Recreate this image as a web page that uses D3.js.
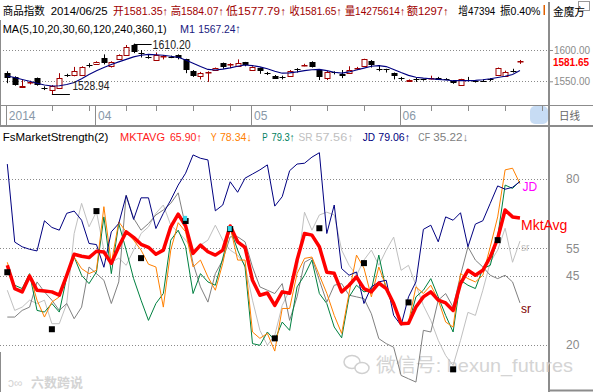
<!DOCTYPE html>
<html><head><meta charset="utf-8">
<script src="https://cdn.jsdelivr.net/npm/d3@7"></script>
<style>
body{margin:0;background:#fff;}
svg{display:block;font-family:'Liberation Sans','Noto Sans CJK SC',sans-serif;}
</style></head>
<body><svg id="c" width="593" height="392"></svg>
<script>
// ---------- DATA ----------
const candleOpen = [1563.7,1556.4,1541.5,1548,1554.8,1539,1536,1540,1560.2,1560, 1560,1576.2,1577.6,1586.7,1574,1585,1592,1608,1594.5,1589.2, 1584,1590,1589.2,1592,1585,1567,1557.5,1564,1568,1579, 1577,1575.5,1580.3,1569,1571,1563.2,1559,1557.2,1559,1569.2, 1576,1581,1568,1556,1564.2,1561.7,1563,1571,1574,1583, 1569.2,1569,1563,1555.2,1550.5,1553.2,1553.2,1555,1556,1554, 1550.5,1544,1552.2,1550.7,1551.2,1553.2,1560,1558.5,1567.2,1581.35];
const candleClose = [1555,1544,1542.5,1548.3,1544,1538.7,1542.5,1556,1560,1566, 1573,1576,1581,1578.7,1581,1592,1604,1596.3,1592.5,1589, 1592,1590.3,1589,1586.7,1567,1558.5,1563,1564.3,1571,1573, 1577.3,1580,1575,1573,1566.5,1563,1555,1557,1567,1569, 1576.3,1573,1557,1565,1564,1558.5,1568,1571.3,1585,1576, 1569,1567,1557.5,1555,1551.5,1553,1553,1555.3,1553,1553, 1547,1553,1552,1550.5,1551,1553,1571,1565,1567,1581.65];
const candleHigh = [1566,1558,1552,1551,1556,1542,1544,1563,1562,1573, 1574,1579,1582,1593,1582,1593,1608,1610.2,1600,1592, 1596,1592,1591,1593,1586,1568,1565,1566,1572,1580, 1579,1585,1581,1574,1572,1565,1560,1559,1568,1571, 1578,1582,1569,1567,1566,1568,1574,1573,1586,1584, 1576,1570,1564,1557,1553,1556,1554,1559,1557,1555, 1551,1554,1557,1552,1553,1555,1572,1567,1570,1584.07];
const candleLow = [1547,1543,1541,1545,1543,1536,1528.94,1539,1557,1558, 1559,1572,1577,1577,1572,1584,1591,1595,1588,1586, 1583,1585,1587,1585,1563,1557,1553,1549,1567,1570, 1571,1575,1574,1567,1562,1560,1554,1553,1557,1564, 1574,1572,1552,1552,1561,1555,1562,1568,1573,1572, 1566,1564,1553,1551,1550,1549,1551,1553,1552,1552, 1546,1543,1550,1548,1549,1550,1559,1557,1564,1577.79];
const ma1 = [1558.5,1556,1553,1550,1547,1544,1542.5,1543,1545,1548, 1554,1561,1567,1572,1577,1581,1585,1589,1591.5,1593, 1592.5,1591.5,1590,1588.5,1584,1579,1573.5,1569,1568,1569.5, 1571.5,1574,1576,1575,1573,1570,1566,1563,1563.5,1565, 1567,1568.5,1569,1567,1564.5,1563,1565,1568,1571,1574, 1575,1573.5,1569,1564,1559.5,1556.5,1555,1554,1553,1552, 1551,1551,1551,1551.5,1552.5,1554,1556,1558,1561,1567.24];

const mktavg = [48.8,40.4,39.2,44.9,39.8,39.5,39.2,38.0,45.2,52.8, 52.1,51.6,53.9,53.6,49.5,55.5,60.9,58.9,56.4,55.3, 52.8,54.3,62.7,67.3,63.0,53.1,56.1,53.7,52.5,54.3, 63.0,57.3,55.3,43.4,38.0,38.8,34.3,39.2,38.7,50.7, 60.3,59.7,55.5,46.3,45.9,39.2,41.6,44.6,40.4,39.2, 42.4,40.4,35.0,27.7,27.9,33.7,37.4,39.2,36.2,35.2, 32.5,42.2,47.0,45.2,47.0,51.8,58.5,68.8,66.3,65.9];
const seriesY = [49.9,40.5,39.2,45.6,36.2,30.1,35.5,37.4,45.8,51.8, 47.6,45.8,47.0,70.0,49.5,64.5,60.9,57.9,54.3,49.2, 48.2,33.7,54.3,64.2,60.9,48.2,50.7,44.6,39.8,49.5, 62.7,50.7,50.7,24.7,22.4,24.2,17.8,33.2,33.2,45.8, 51.3,51.8,45.2,38.7,30.7,24.2,38.7,52.5,47.8,37.4, 48.2,41.0,34.3,27.7,28.3,41.0,38.6,41.6,36.2,28.3, 26.5,45.8,44.0,42.8,45.2,55.5,66.3,83.3,83.9,78.3];
const seriesP = [47.0,41.6,40.4,45.8,32.5,31.9,35.0,31.9,44.6,51.8, 45.2,42.2,46.4,66.3,45.8,63.9,54.3,44.0,36.2,28.9, 35.0,38.6,57.9,61.5,55.5,38.6,45.8,42.8,41.6,51.4, 62.1,54.3,48.2,20.5,19.9,24.7,21.7,28.3,25.3,41.0, 45.2,50.7,38.6,35.0,26.5,22.6,37.4,41.6,39.2,39.8, 52.5,39.8,34.3,28.3,27.7,37.4,39.8,44.0,37.4,30.7, 24.7,43.4,41.6,40.4,47.6,48.8,59.1,77.8,76.6,79.3];
const seriesSR = [39.8,32.5,33.7,36.2,35.0,36.2,27.7,27.7,35.0,60.3, 71.2,62.7,68.2,54.3,49.9,51.4,48.8,54.3,60.3,62.7, 67.6,70.6,63.3,60.8,57.9,54.3,56.1,57.9,63.3,57.9, 54.3,52.5,48.8,36.2,25.3,19.9,23.5,34.3,39.8,47.0, 68.0,61.5,67.0,68.0,67.0,54.3,48.8,45.2,50.7,54.3, 48.8,54.3,59.0,47.0,48.8,41.6,34.3,28.9,21.7,16.2, 12.6,21.7,31.8,30.7,39.8,49.9,54.3,62.2,49.9,57.56];
const seriesJD = [85.4,57.2,55.5,54.6,54.0,64.9,62.5,61.5,67.6,68.4, 65.1,56.7,56.3,48.1,60.9,63.9,74.0,65.4,73.2,73.2, 62.1,67.6,72.4,77.8,82.1,88.7,87.5,86.9,68.5,70.6, 79.0,75.2,80.3,81.8,83.3,85.1,70.2,73.6,83.0,85.4, 85.7,87.9,89.5,60.3,70.6,47.6,45.2,46.4,35.0,41.0, 42.8,43.4,30.7,27.1,37.4,42.8,61.8,63.3,57.3,66.3, 65.1,67.8,55.5,63.7,64.9,71.2,77.5,76.3,77.0,79.06];
const seriesCF = [30.1,30.1,32.5,33.7,42.8,39.2,36.2,32.5,35.0,29.5, 33.7,48.2,45.8,43.4,35.0,42.8,74.2,65.8,61.5,63.9, 67.0,68.8,71.2,75.0,62.7,49.5,41.0,35.5,45.8,50.7, 59.1,59.1,57.3,48.2,41.0,39.8,38.6,42.2,28.9,37.4, 49.9,51.4,43.4,35.5,41.6,42.2,38.0,37.4,36.8,31.3, 22.3,20.5,19.2,9.0,7.8,6.6,25.3,24.7,36.2,38.6, 33.7,45.2,55.5,50.7,48.2,45.2,44.0,45.2,42.8,35.22];
const markerIdx = [0,6,12,18,24,30,36,42,48,54,60,66];
const markerVal = [46.3,25.7,68.4,51.4,64.8,61.9,22.4,62.2,49.6,35.4,11.2,57.9];
const cyanIdx = [24,30];
const cyanVal = [65.6,61.9];

const priceTicks = [1600,1550];
const strengthTicks = [80,55,45,20];
const weekTicks = [6,11,16,20,25,30,38,43,48,57,62,67,72];
const monthTicks = [0,12,33,53];
const monthLabels = ["2014","04","05","06"];

// ---------- SCALES ----------
const svg = d3.select("#c");
const x = d3.scaleLinear().domain([0,73]).range([7.3, 7.3+7.43*73]);
const py = d3.scaleLinear().domain([1550,1600]).range([81.3,50]);
const sy = d3.scaleLinear().domain([20,80]).range([345,179]);
const idx = d3.range(candleOpen.length);
const plotRight = 549;
const fit = (sel) => sel.attr("textLength",d=>d.w).attr("lengthAdjust","spacingAndGlyphs");

// ---------- FRAME ----------
const frame = svg.append("g").attr("stroke","#8c8c8c").attr("fill","none");
frame.append("line").attr("x1",plotRight).attr("x2",plotRight).attr("y1",2).attr("y2",392).attr("stroke-width",2);
frame.append("line").attr("x1",0).attr("x2",593).attr("y1",105.5).attr("y2",105.5);
frame.append("line").attr("x1",0).attr("x2",593).attr("y1",126).attr("y2",126).attr("stroke-width",2);
frame.append("line").attr("x1",plotRight).attr("x2",593).attr("y1",390.5).attr("y2",390.5).attr("stroke-width",2);
frame.append("line").attr("x1",0.5).attr("x2",0.5).attr("y1",20).attr("y2",126);
frame.append("line").attr("x1",0.5).attr("x2",0.5).attr("y1",352).attr("y2",392);
frame.append("rect").attr("x",578.5).attr("y",1.5).attr("width",11).attr("height",9).attr("stroke","#999");

// scroll thumb
svg.append("rect").attr("x",530).attr("y",106).attr("width",18).attr("height",18).attr("rx",5).attr("fill","#c7dcf4");

// ---------- GRID ----------
const grid = svg.append("g").attr("stroke","#8a8a8a").attr("stroke-dasharray","1,2");
grid.selectAll("line.p").data(priceTicks).join("line").attr("x1",0).attr("x2",plotRight-1)
  .attr("y1",d=>Math.round(py(d))+0.5).attr("y2",d=>Math.round(py(d))+0.5);
grid.selectAll("line.s").data(strengthTicks).join("line").attr("x1",0).attr("x2",plotRight-1)
  .attr("y1",d=>Math.round(sy(d))+0.5).attr("y2",d=>Math.round(sy(d))+0.5);

// ---------- RIGHT AXES ----------
const pax = svg.append("g").attr("transform",`translate(${plotRight},0)`)
  .call(d3.axisRight(py).tickValues(priceTicks).tickSize(4).tickPadding(1).tickFormat(d3.format(".2f")));
pax.select(".domain").remove();
pax.selectAll("line").attr("stroke","#8c8c8c");
pax.selectAll("text").attr("fill","#8a8a8a").attr("font-size",11).attr("font-family","Liberation Sans, sans-serif")
  .attr("textLength",36).attr("lengthAdjust","spacingAndGlyphs");
svg.append("text").attr("x",553).attr("y",66).attr("fill","#ff0000").attr("font-size",11).attr("font-weight","bold")
  .attr("textLength",36).attr("lengthAdjust","spacingAndGlyphs")
  .text(d3.format(".2f")(candleClose[candleClose.length-1]));

const sax = svg.append("g").attr("transform",`translate(${plotRight},0)`)
  .call(d3.axisRight(sy).tickValues(strengthTicks).tickSize(0).tickPadding(17));
sax.select(".domain").remove();
sax.selectAll("text").attr("fill","#8a8a8a").attr("font-size",12).attr("font-family","Liberation Sans, sans-serif");

svg.append("text").attr("x",553).attr("y",16).attr("font-size",11).attr("fill","#000")
  .attr("textLength",32).attr("lengthAdjust","spacingAndGlyphs").text("金魔方");
svg.append("text").attr("x",559).attr("y",120).attr("font-size",11).attr("fill","#666")
  .attr("textLength",21).attr("lengthAdjust","spacingAndGlyphs").text("日线");

// ---------- X AXIS ----------
const xa = svg.append("g").attr("stroke","#8c8c8c");
xa.selectAll("line.w").data(weekTicks).join("line")
  .attr("x1",d=>Math.round(x(d))+0.5).attr("x2",d=>Math.round(x(d))+0.5).attr("y1",105).attr("y2",111);
xa.selectAll("line.m").data(monthTicks).join("line")
  .attr("x1",d=>Math.round(x(d))-0.5).attr("x2",d=>Math.round(x(d))-0.5).attr("y1",105).attr("y2",125);
svg.append("g").selectAll("text").data(monthTicks).join("text")
  .attr("x",d=>x(d)+1.5).attr("y",120).attr("font-size",12).attr("fill","#8898a8")
  .text((d,i)=>monthLabels[i]);

// ---------- CANDLES ----------
const cg = svg.append("g");
idx.forEach(i=>{
  const o=candleOpen[i], c=candleClose[i], up=c>=o;
  const col = up ? "#a00000" : "#000";
  const cx = Math.round(x(i))+0.5;
  cg.append("line").attr("x1",cx).attr("x2",cx).attr("y1",py(candleHigh[i])).attr("y2",py(candleLow[i])).attr("stroke",col);
  const top = py(Math.max(o,c)), bot = py(Math.min(o,c));
  const h = Math.max(0.01, bot-top);
  if (up) {
    cg.append("rect").attr("x",cx-2.5).attr("y",Math.round(top)+0.5).attr("width",5).attr("height",Math.max(0.5,Math.round(h)))
      .attr("fill","#fff").attr("stroke",col);
  } else {
    cg.append("rect").attr("x",cx-3).attr("y",Math.round(top)).attr("width",6).attr("height",Math.max(1,Math.round(h)))
      .attr("fill",col);
  }
});
svg.append("path").datum(idx).attr("fill","none").attr("stroke","#000080").attr("stroke-width",1.1)
  .attr("d",d3.line().x(i=>x(i)).y(i=>py(ma1[i])));

// high/low annotations
const hiI = d3.maxIndex(candleHigh), loI = d3.minIndex(candleLow);
svg.append("line").attr("x1",x(hiI)).attr("x2",x(hiI)+18).attr("y1",Math.round(py(candleHigh[hiI]))+0.5).attr("y2",Math.round(py(candleHigh[hiI]))+0.5).attr("stroke","#000");
svg.append("text").attr("x",x(hiI)+19).attr("y",48.5).attr("font-size",12).attr("fill","#222")
  .attr("textLength",38).attr("lengthAdjust","spacingAndGlyphs").text(d3.format(".2f")(candleHigh[hiI]));
svg.append("line").attr("x1",x(loI)).attr("x2",x(loI)+18).attr("y1",Math.round(py(candleLow[loI]))+0.5).attr("y2",Math.round(py(candleLow[loI]))+0.5).attr("stroke","#000");
svg.append("text").attr("x",x(loI)+20.5).attr("y",89.5).attr("font-size",12).attr("fill","#222")
  .attr("textLength",37).attr("lengthAdjust","spacingAndGlyphs").text(d3.format(".2f")(candleLow[loI]));

// ---------- HEADER ----------
const hdr = [
  {x:2.7,w:42,t:"商品指数",c:"#000"},{x:50.7,w:57,t:"2014/06/25",c:"#000"},
  {x:113,w:55,t:"开1581.35↑",c:"#a00000"},{x:170.7,w:53,t:"高1584.07↑",c:"#a00000"},
  {x:226,w:60,t:"低1577.79↑",c:"#a00000"},{x:289.5,w:52,t:"收1581.65↑",c:"#a00000"},
  {x:345,w:60,t:"量14275614↑",c:"#a00000"},{x:406.7,w:42,t:"额1297↑",c:"#a00000"},
  {x:458.3,w:37,t:"增47394",c:"#000"},{x:500,w:40.5,t:"振0.40%",c:"#000"}
];
svg.append("g").selectAll("text").data(hdr).join("text")
  .attr("x",d=>d.x).attr("y",15).attr("font-size",11).attr("fill",d=>d.c).call(fit).text(d=>d.t);
svg.append("rect").attr("x",543.5).attr("y",5).attr("width",1.5).attr("height",10).attr("fill","#e06000");
const hdrMA = [
  {x:2.7,w:164,t:"MA(5,10,20,30,60,120,240,360,1)",c:"#000"},
  {x:180,w:15,t:"M1",c:"#1a1a80"},{x:198.3,w:42.4,t:"1567.24↑",c:"#1a1a80"}
];
svg.append("g").selectAll("text").data(hdrMA).join("text")
  .attr("x",d=>d.x).attr("y",33).attr("font-size",11.5).attr("fill",d=>d.c).call(fit).text(d=>d.t);

const hdr2 = [
  {x:2.7,w:105.6,t:"FsMarketStrength(2)",c:"#000"},{x:120,w:45,t:"MKTAVG",c:"#ff2020"},{x:170,w:31.7,t:"65.90↑",c:"#ff2020"},
  {x:210.7,w:6,t:"Y",c:"#ff8000"},{x:220,w:31.7,t:"78.34↓",c:"#ff8000"},{x:262.3,w:5.4,t:"P",c:"#008060"},{x:271.5,w:23,t:"79.3↑",c:"#008060"},
  {x:298.5,w:14,t:"SR",c:"#c0c0c0"},{x:315.5,w:38,t:"57.56↑",c:"#c0c0c0"},{x:362.7,w:12.3,t:"JD",c:"#000080"},{x:378.3,w:31.7,t:"79.06↑",c:"#000080"},
  {x:418.3,w:11.7,t:"CF",c:"#808080"},{x:433.3,w:35,t:"35.22↓",c:"#808080"}
];
svg.append("g").selectAll("text").data(hdr2).join("text")
  .attr("x",d=>d.x).attr("y",140.5).attr("font-size",11).attr("fill",d=>d.c).call(fit).text(d=>d.t);

// ---------- WATERMARKS ----------
const wm = svg.append("g").attr("fill","#d4d4d4");
wm.append("ellipse").attr("cx",352).attr("cy",362).attr("rx",8).attr("ry",6.5).attr("fill","none").attr("stroke","#d0d0d0").attr("stroke-width",1.5);
wm.append("ellipse").attr("cx",362).attr("cy",368).attr("rx",7).attr("ry",5.5).attr("fill","#fff").attr("stroke","#d0d0d0").attr("stroke-width",1.5);
wm.append("text").attr("x",376).attr("y",372).attr("font-size",19)
  .attr("textLength",197).attr("lengthAdjust","spacingAndGlyphs").text("微信号: hexun_futures");
wm.append("text").attr("x",8).attr("y",387).attr("font-size",12).text("ↄ∞");
wm.append("text").attr("x",31).attr("y",387).attr("font-size",13).attr("font-weight","bold").text("六数跨说");

// ---------- STRENGTH LINES ----------
svg.append("clipPath").attr("id","bc").append("rect").attr("x",0).attr("y",127).attr("width",plotRight-1).attr("height",265);
const lg = svg.append("g").attr("clip-path","url(#bc)");
const line = arr => d3.line().x(i=>x(i)).y(i=>sy(arr[i]))(idx);
[[seriesSR,"#c0c0c0",1],[seriesCF,"#808080",1],[seriesP,"#008040",1],[seriesY,"#ff8000",1],[seriesJD,"#000080",1],[mktavg,"#ff0000",3.5]]
 .forEach(([a,c,w])=>lg.append("path").attr("d",line(a)).attr("fill","none").attr("stroke",c).attr("stroke-width",w).attr("stroke-linejoin","round"));

lg.selectAll("rect.mk").data(markerIdx).join("rect")
  .attr("x",d=>x(d)-3).attr("y",(d,i)=>sy(markerVal[i])-3).attr("width",6).attr("height",6).attr("fill","#000");
lg.selectAll("rect.cy").data(cyanIdx).join("rect")
  .attr("x",d=>x(d)-2.5).attr("y",(d,i)=>sy(cyanVal[i])-3).attr("width",4).attr("height",5).attr("fill","#33d6e8");

// end labels
const last = idx.length-1;
svg.append("text").attr("x",x(last)+2.5).attr("y",sy(seriesJD[last])+9).attr("font-size",12).attr("fill","#ff00ff").text("JD");
svg.append("text").attr("x",x(last)+1).attr("y",sy(mktavg[last])+12).attr("font-size",14).attr("fill","#ff0000").text("MktAvg");
svg.append("text").attr("x",x(last)+1).attr("y",sy(seriesSR[last])+10).attr("font-size",10).attr("fill","#c0c0c0").text("sr");
svg.append("text").attr("x",x(last)+1).attr("y",sy(seriesCF[last])+10).attr("font-size",12).attr("fill","#800000").text("sr");
</script></body></html>
